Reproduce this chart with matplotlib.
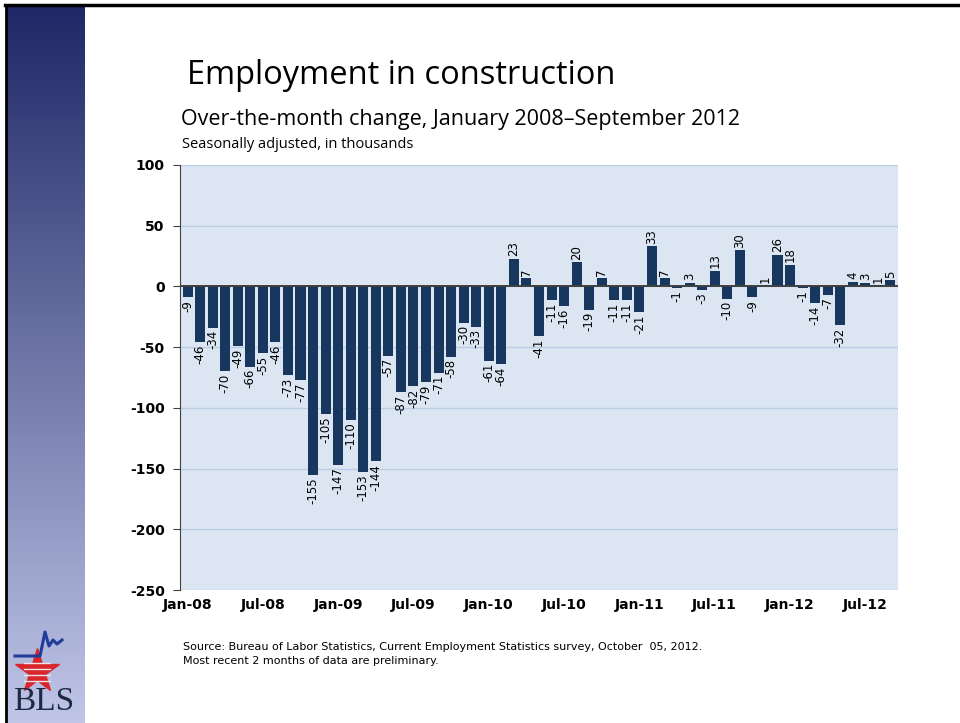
import numpy as np
import matplotlib.pyplot as plt

# over-the-month change, thousands (Jan 2008 - Sep 2012)
values = [-9, -46, -34, -70, -49, -66, -55, -46, -73, -77, -155, -105,
          -147, -110, -153, -144, -57, -87, -82, -79, -71, -58, -30, -33,
          -61, -64, 23, 7, -41, -11, -16, 20, -19, 7, -11, -11,
          -21, 33, 7, -1, 3, -3, 13, -10, 30, -9, 1, 26,
          18, -1, -14, -7, -32, 4, 3, 1, 5]
tick_labels = ['Jan-08', 'Jul-08', 'Jan-09', 'Jul-09', 'Jan-10',
               'Jul-10', 'Jan-11', 'Jul-11', 'Jan-12', 'Jul-12']
y_ticks = [100, 50, 0, -50, -100, -150, -200, -250]

bar_color = '#17375E'
bg_color = '#DCE6F2'
grid_color = '#B9CDE5'

W, H = 960, 723
fig = plt.figure(figsize=(9.6, 7.23), dpi=100)

# left sidebar gradient
side = fig.add_axes([7 / W, 0, 78 / W, 1 - 6 / H])
top_c = np.array([0x1F, 0x27, 0x66]) / 255
bot_c = np.array([0xC0, 0xC6, 0xE8]) / 255
t = np.linspace(0, 1, 256)[:, None]
grad = top_c * (1 - t) + bot_c * t
side.imshow(grad[:, None, :], aspect='auto', extent=[0, 1, 0, 1])
side.set_xlim(0, 1)
side.set_ylim(0, 1)
side.set_axis_off()

# BLS logo (simple)
fig.text(44 / W, 1 - 702 / H, 'BLS', ha='center', va='center', fontsize=24,
         family='Liberation Serif', color='#1F2A40')
fig.add_artist(plt.Line2D([37 / W], [1 - 671 / H], marker='*', markersize=33,
                          color='#D9262B', markeredgecolor='#D9262B'))
for yy in [663, 669, 675, 681]:
    fig.add_artist(plt.Line2D([24 / W, 50 / W], [1 - yy / H, 1 - yy / H],
                              color='#EDE4EA', lw=1))
fig.add_artist(plt.Line2D(np.array([15, 40, 45, 49, 53, 57, 62]) / W,
                          1 - np.array([656, 656, 632, 646, 640, 644, 640]) / H,
                          color='#1F3C99', lw=2.2))

# frame
fig.add_artist(plt.Line2D([5 / W, 1], [1 - 5 / H, 1 - 5 / H], color='black', lw=2.5))
fig.add_artist(plt.Line2D([6 / W, 6 / W], [0, 1 - 5 / H], color='black', lw=2))

# titles
fig.text(187 / W, 1 - 75 / H, 'Employment in construction', fontsize=23.5,
         family='Open Sans', va='center', ha='left')
fig.text(181 / W, 1 - 119 / H, 'Over-the-month change, January 2008\u2013September 2012',
         fontsize=15.5, family='Open Sans', va='center', ha='left')
fig.text(182 / W, 1 - 144 / H, 'Seasonally adjusted, in thousands',
         fontsize=10.5, family='Open Sans', va='center', ha='left')

ax = fig.add_axes([180 / W, 133 / H, 718 / W, 425 / H])
ax.set_facecolor(bg_color)
x = np.arange(len(values))
ax.bar(x, values, width=0.8, color=bar_color, zorder=3)
ax.axhline(0, color='#404040', lw=1.4, zorder=4)

for xi, v in zip(x, values):
    off = 2 if v >= 0 else -2
    ax.text(xi, v + off, str(v), rotation=90, ha='center',
            va='bottom' if v >= 0 else 'top', fontsize=8.5, color='black')

ax.set_xlim(-0.6, len(values) - 0.4)
ax.set_ylim(-250, 100)
ax.set_yticks(y_ticks)
ax.set_yticklabels([str(v) for v in y_ticks], fontweight='bold', fontsize=10)
ax.set_xticks(x[::6])
ax.set_xticklabels(tick_labels, fontweight='bold', fontsize=10)
ax.tick_params(axis='x', length=0, pad=6)
ax.tick_params(axis='y', length=5, direction='out', color='#404040', pad=6)
ax.yaxis.grid(True, color=grid_color, lw=1, zorder=0)
for s in ['top', 'right', 'bottom']:
    ax.spines[s].set_visible(False)
ax.spines['left'].set_color('#404040')

fig.text(183 / W, 1 - 647 / H,
         'Source: Bureau of Labor Statistics, Current Employment Statistics survey, October  05, 2012.',
         fontsize=8, va='center', ha='left')
fig.text(183 / W, 1 - 661 / H, 'Most recent 2 months of data are preliminary.',
         fontsize=8, va='center', ha='left')

fig.savefig('out.png', dpi=100)
